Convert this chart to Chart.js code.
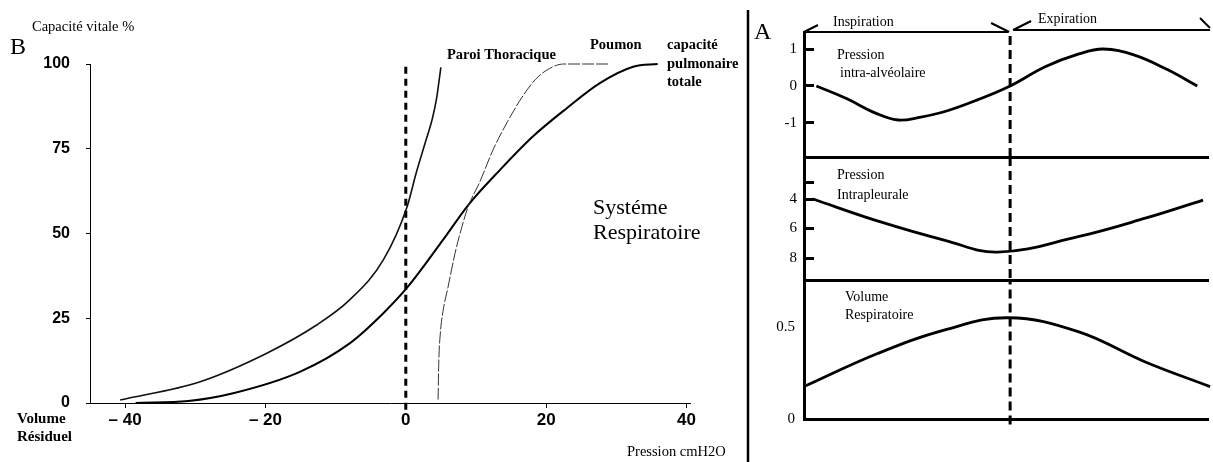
<!DOCTYPE html>
<html>
<head>
<meta charset="utf-8">
<title>Compliance pulmonaire et cycle respiratoire</title>
<script src="https://cdn.jsdelivr.net/npm/chart.js@4/dist/chart.umd.min.js"></script>
<style>
  body { margin: 0; background: #fff; }
  .wrap { position: relative; width: 1213px; height: 462px; overflow: hidden; }
  .wrap canvas { position: absolute; }
</style>
</head>
<body>
<div class="wrap">
  <canvas id="compliance" width="752" height="462" style="left:0;top:0"></canvas>
  <canvas id="alveolar" width="463" height="160" style="left:750px;top:0"></canvas>
  <canvas id="pleural" width="463" height="140" style="left:750px;top:150px"></canvas>
  <canvas id="volume" width="463" height="192" style="left:750px;top:270px"></canvas>
</div>
<script>
// --- B : pression / volume (capacité vitale %) ---
const pressureTicks = [-40, -20, 0, 20, 40];
const capacityTicks = [0, 25, 50, 75, 100];

const chestX = [-40.7, -29.3, -19.8, -12.7, -8, -3.2, 0.2, 1.5, 2.8, 3.8, 4.4, 4.8, 5.0];
const chestY = [0.9, 6.3, 14.7, 23, 30.4, 42.2, 58, 68, 77, 84, 90, 96, 99];

const lungX = [4.6, 4.7, 4.9, 5.3, 6.0, 7.0, 8.0, 8.9, 10.5, 12.5, 14.5, 16.5, 18.5, 20.5, 22.5, 25.3, 29];
const lungY = [1, 12, 20, 27, 34, 44, 52, 58, 65, 75, 83, 90, 95.5, 98.7, 100, 100, 100];

const systemX = [-38.5, -31, -24.6, -15.1, -8, -3.2, 0.3, 5.3, 8.9, 13.4, 18.1, 22.9, 27.6, 32.4, 35.9];
const systemY = [0, 0.6, 2.9, 9.2, 17.6, 26.5, 34.3, 48.1, 58.4, 68.7, 78.6, 86.9, 94.3, 99.2, 100];

// --- A : cycle respiratoire ---
const alvTime = [3, 10.3, 17.5, 22.8, 28, 34.2, 42.2, 50, 58.5, 66.5, 72.6, 80, 88, 95.4];
const alvPressure = [0, -0.34, -0.74, -0.92, -0.85, -0.69, -0.37, 0, 0.52, 0.86, 1.0, 0.84, 0.45, 0];
const alvTicks = [-1, 0, 1];

const pleuralTime = [2.2, 18, 34.2, 47, 66.5, 82.8, 96.8];
const pleuralPressure = [4.0, 5.5, 6.8, 7.6, 6.55, 5.3, 4.07];
const pleuralTicks = [2.85, 4, 6, 8];
const pleuralLabels = ['', '4', '6', '8'];

const volTime = [0, 18, 34.2, 49.5, 66.5, 82.8, 98.5];
const volValues = [0.176, 0.357, 0.484, 0.55, 0.475, 0.31, 0.176];
const volTicks = [0, 0.5];

const phaseSplit = 50; // fin de l'inspiration

const SERIF = '"Liberation Serif", "Times New Roman", serif';
const SANS = '"Liberation Sans", Arial, sans-serif';

function pts(xs, ys) {
  return xs.map((x, i) => ({ x: x, y: ys[i] }));
}

// the tick padding must not push the chart area around
function noLabelOverflow(s) {
  s.paddingTop = 0;
  s.paddingBottom = 0;
}

// writes plain text items, coordinates given in page pixels
function textPlugin(id, items, offX, offY, extra) {
  return {
    id: id,
    afterDraw(chart) {
      const ctx = chart.ctx;
      ctx.save();
      ctx.fillStyle = '#000';
      ctx.textBaseline = 'middle';
      ctx.textAlign = 'left';
      items.forEach(t => {
        ctx.font = t.font;
        ctx.fillText(t.text, t.x - offX, t.y - offY);
      });
      if (extra) extra(chart, ctx, offX, offY);
      ctx.restore();
    }
  };
}

const small = '14.5px ' + SERIF;
const smallBold = 'bold 14.5px ' + SERIF;

const leftTexts = [
  { text: 'Capacité vitale %', x: 32, y: 27, font: small },
  { text: 'B', x: 10, y: 48, font: '24px ' + SERIF },
  { text: 'Volume', x: 17, y: 419, font: 'bold 15px ' + SERIF },
  { text: 'Résiduel', x: 17, y: 437, font: 'bold 15px ' + SERIF },
  { text: 'Pression cmH2O', x: 627, y: 452, font: small },
  { text: 'Paroi Thoracique', x: 447, y: 55, font: smallBold },
  { text: 'Poumon', x: 590, y: 45, font: smallBold },
  { text: 'capacité', x: 667, y: 45, font: smallBold },
  { text: 'pulmonaire', x: 667, y: 64, font: smallBold },
  { text: 'totale', x: 667, y: 82, font: smallBold },
  { text: 'Systéme', x: 593, y: 208, font: '22px ' + SERIF },
  { text: 'Respiratoire', x: 593, y: 233, font: '22px ' + SERIF }
];

function separator(chart, ctx) {
  ctx.strokeStyle = '#000';
  ctx.lineWidth = 2.5;
  ctx.beginPath();
  ctx.moveTo(748, 10);
  ctx.lineTo(748, 462);
  ctx.stroke();
}

new Chart(document.getElementById('compliance'), {
  type: 'scatter',
  data: {
    datasets: [
      {
        label: 'Paroi Thoracique',
        data: pts(chestX, chestY),
        showLine: true, borderColor: '#111', borderWidth: 1.6,
        pointRadius: 0, cubicInterpolationMode: 'monotone', clip: false
      },
      {
        label: 'Poumon',
        data: pts(lungX, lungY),
        showLine: true, borderColor: '#333', borderWidth: 1, borderDash: [12, 2],
        pointRadius: 0, cubicInterpolationMode: 'monotone', clip: false
      },
      {
        label: 'Système respiratoire',
        data: pts(systemX, systemY),
        showLine: true, borderColor: '#000', borderWidth: 2,
        pointRadius: 0, cubicInterpolationMode: 'monotone', clip: false
      },
      {
        label: 'pression nulle',
        data: [{ x: 0, y: -2 }, { x: 0, y: 100 }],
        showLine: true, borderColor: '#000', borderWidth: 3, borderDash: [7, 5],
        pointRadius: 0, clip: false
      }
    ]
  },
  options: {
    responsive: false,
    animation: false,
    layout: { padding: { top: 64, right: 62, bottom: 0, left: 0 } },
    plugins: { legend: { display: false }, tooltip: { enabled: false } },
    scales: {
      x: {
        type: 'linear', min: -45, max: 40.5,
        afterBuildTicks: s => { s.ticks = pressureTicks.map(v => ({ value: v })); },
        afterFit: s => { s.height = 59; },
        grid: { drawOnChartArea: false, tickLength: 5, color: '#000' },
        border: { color: '#000', width: 1 },
        ticks: {
          color: '#000', padding: 2, maxRotation: 0,
          font: { family: SANS, size: 17, weight: 'bold' },
          callback: v => v < 0 ? '\u2013 ' + Math.abs(v) : String(v)
        }
      },
      y: {
        min: 0, max: 100,
        afterBuildTicks: s => { s.ticks = capacityTicks.map(v => ({ value: v })); },
        afterFit: s => { s.width = 90; noLabelOverflow(s); },
        grid: { drawOnChartArea: false, tickLength: 4, color: '#000' },
        border: { color: '#000', width: 1 },
        ticks: {
          color: '#000', padding: 16,
          font: { family: SANS, size: 16, weight: 'bold' }
        }
      }
    }
  },
  plugins: [textPlugin('leftText', leftTexts, 0, 0, separator)]
});

// three stacked panels share the same time axis
function panel(canvasId, cfg) {
  const line = {
    data: pts(cfg.time, cfg.values),
    showLine: true, borderColor: '#000', borderWidth: 2.8,
    pointRadius: 0, tension: 0.4, clip: false
  };
  const split = {
    data: [{ x: phaseSplit, y: cfg.splitFrom }, { x: phaseSplit, y: cfg.splitTo }],
    showLine: true, borderColor: '#000', borderWidth: 3, borderDash: [9, 5],
    pointRadius: 0, clip: false
  };
  return new Chart(document.getElementById(canvasId), {
    type: 'scatter',
    data: { datasets: [line, split] },
    options: {
      responsive: false,
      animation: false,
      layout: { padding: { top: cfg.padTop, right: 5, bottom: 0, left: 0 } },
      plugins: { legend: { display: false }, tooltip: { enabled: false } },
      scales: {
        x: {
          type: 'linear', min: 0, max: 98,
          afterFit: s => { s.height = cfg.axisHeight; },
          grid: { display: false, drawTicks: false },
          border: { color: '#000', width: 3 },
          ticks: { display: false }
        },
        y: {
          min: cfg.min, max: cfg.max, reverse: !!cfg.reverse,
          afterBuildTicks: s => { s.ticks = cfg.ticks.map(v => ({ value: v })); },
          afterFit: s => { s.width = 54; noLabelOverflow(s); },
          grid: cfg.tickMarks
            ? { drawOnChartArea: false, tickLength: -10, lineWidth: 3, color: '#000' }
            : { display: false, drawTicks: false },
          border: { color: '#000', width: 3 },
          ticks: {
            color: '#000', padding: cfg.tickMarks ? 17 : 9,
            font: { family: SERIF, size: 15 },
            callback: cfg.labels ? (v, i) => cfg.labels[i] : v => String(v)
          }
        }
      }
    },
    plugins: [textPlugin(canvasId + 'Text', cfg.texts, 750, cfg.top, cfg.extra)]
  });
}

function phaseArrows(chart, ctx) {
  const x = chart.scales.x;
  const x0 = x.getPixelForValue(0);
  const xs = x.getPixelForValue(phaseSplit);
  const x1 = x.getPixelForValue(98);
  const top = chart.chartArea.top;
  ctx.strokeStyle = '#000';
  ctx.lineWidth = 2;
  ctx.beginPath();
  ctx.moveTo(x0, top); ctx.lineTo(xs - 2, top);
  ctx.moveTo(x0, top); ctx.lineTo(x0 + 14, top - 7);
  ctx.moveTo(xs - 19, top - 9); ctx.lineTo(xs - 1, top);
  ctx.moveTo(xs + 3, top - 2); ctx.lineTo(x1 + 2, top - 2);
  ctx.moveTo(xs + 3, top - 2); ctx.lineTo(xs + 21, top - 11);
  ctx.moveTo(x1 - 8, top - 14); ctx.lineTo(x1 + 2, top - 4);
  ctx.stroke();
}

panel('alveolar', {
  top: 0, padTop: 32, axisHeight: 3,
  time: alvTime, values: alvPressure,
  min: -1.92, max: 1.46, ticks: alvTicks, tickMarks: true,
  splitFrom: -1.92, splitTo: 1.46,
  texts: [
    { text: 'A', x: 754, y: 33, font: '24px ' + SERIF },
    { text: 'Inspiration', x: 833, y: 22, font: '14px ' + SERIF },
    { text: 'Expiration', x: 1038, y: 19, font: '14px ' + SERIF },
    { text: 'Pression', x: 837, y: 55, font: '14px ' + SERIF },
    { text: 'intra-alvéolaire', x: 840, y: 73, font: '14px ' + SERIF }
  ],
  extra: phaseArrows
});

panel('pleural', {
  top: 150, padTop: 7, axisHeight: 10,
  time: pleuralTime, values: pleuralPressure,
  min: 1.15, max: 9.49, reverse: true,
  ticks: pleuralTicks, labels: pleuralLabels, tickMarks: true,
  splitFrom: 1.15, splitTo: 9.49,
  texts: [
    { text: 'Pression', x: 837, y: 175, font: '14px ' + SERIF },
    { text: 'Intrapleurale', x: 837, y: 195, font: '14px ' + SERIF }
  ]
});

panel('volume', {
  top: 270, padTop: 10, axisHeight: 43,
  time: volTime, values: volValues,
  min: 0, max: 0.755, ticks: volTicks, tickMarks: false,
  splitFrom: -0.03, splitTo: 0.755,
  texts: [
    { text: 'Volume', x: 845, y: 297, font: '14px ' + SERIF },
    { text: 'Respiratoire', x: 845, y: 315, font: '14px ' + SERIF }
  ]
});
</script>
</body>
</html>
